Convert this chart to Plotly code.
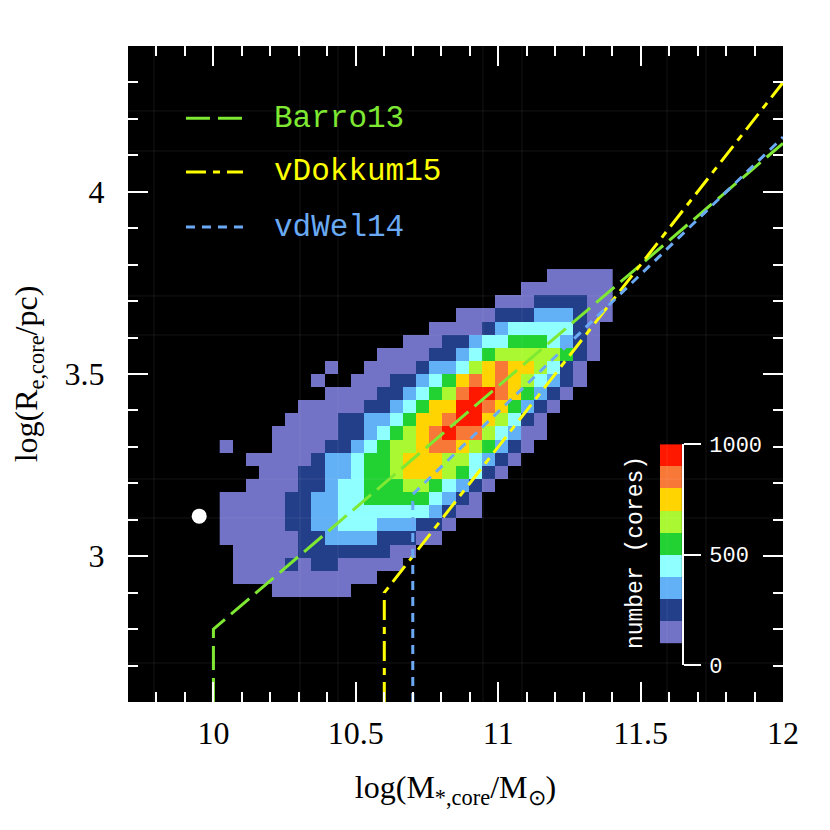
import plotly.graph_objects as go

# 2D histogram of cores, rows listed from top (high R_e) to bottom.
# each digit = which hundred the cell count falls in (0 = empty)
core_rows = [
    "000000000000000000000000011111",
    "000000000000000000000001111111",
    "000000000000000000000111222211",
    "000000000000000000111222333211",
    "000000000000000011112344444210",
    "000000000000001112234455543210",
    "000000000000111122345666665210",
    "000000001001111233467877642100",
    "000000010011122345787876432100",
    "000000001111223456899875321000",
    "000000111112234577998753210000",
    "000001111223345778997642100000",
    "000011111223456789886431100000",
    "100011112234566788765321000000",
    "001111123345567776643210000000",
    "000111223345567776542100000000",
    "001111223445556654321000000000",
    "111112233445555543210000000000",
    "111112233444444432110000000000",
    "111112233444333221000000000000",
    "111111223333222110000000000000",
    "011111222222211000000000000000",
    "011112122111110000000000000000",
    "011111111111000000000000000000",
    "000011111100000000000000000000",
]
bin_counts = [None, 150, 250, 350, 450, 550, 650, 750, 850, 950]
level_colors = ["#7272c6", "#243f8a", "#62b0f6", "#90ffff", "#22d232",
                "#aaf832", "#ffd400", "#f87838", "#ff1800"]
level_mid = [150, 250, 350, 450, 550, 650, 750, 850, 950]

# compactness criteria (x = log M, y = log Re)
series_names = ["Barro13", "vDokkum15", "vdWel14"]
barro_x, barro_y = [10.0, 10.0, 12.0], [2.6, 2.8, 4.133]
dokkum_x, dokkum_y = [10.6, 10.6, 12.0], [2.6, 2.9, 4.3]
vdwel_x, vdwel_y = [10.7, 10.7, 12.0], [2.6, 3.17, 4.15]
line_colors = ["#7ee832", "#ffff00", "#6aaaf5"]
line_dashes = ["24px,8px", "20px,7px,7px,7px", "9px,7px"]

dot_x, dot_y = [9.95], [3.11]

z = [[bin_counts[int(c)] for c in row] for row in core_rows[::-1]]

cs = []
for i, c in enumerate(level_colors):
    cs.append([i / 9, c])
    cs.append([(i + 1) / 9, c])

fig = go.Figure()
fig.add_trace(go.Heatmap(z=z, x0=10.045, dx=0.046, y0=2.906, dy=0.036,
                         colorscale=cs, zmin=100, zmax=1000, showscale=False,
                         hoverongaps=False))

for xs, ys, name, col, dash in zip([barro_x, dokkum_x, vdwel_x], [barro_y, dokkum_y, vdwel_y],
                                   series_names, line_colors, line_dashes):
    fig.add_trace(go.Scatter(x=xs, y=ys, mode="lines", name=name, showlegend=False,
                             line=dict(color=col, width=3, dash=dash)))

fig.add_trace(go.Scatter(x=dot_x, y=dot_y, mode="markers", showlegend=False,
                         marker=dict(color="white", size=15)))

# colour key drawn as its own little heatmap
fig.add_trace(go.Heatmap(z=[[v] for v in level_mid], x=[0], y=level_mid, xaxis="x2", yaxis="y2",
                         colorscale=cs, zmin=100, zmax=1000, showscale=False))

serif = "Liberation Serif"
mono = "Liberation Mono"
tick_style = dict(ticks="inside", ticklen=20, tickwidth=1.5, tickcolor="white",
                  showline=True, linecolor="white", linewidth=1, mirror="ticks",
                  showgrid=False, zeroline=False, automargin=False,
                  tickfont=dict(family=serif, size=32, color="black"))

# page body adds 8px, so margins are trimmed by that much
fig.update_layout(
    width=830, height=830,
    margin=dict(l=120, r=55, t=38, b=136),
    paper_bgcolor="white", plot_bgcolor="black",
    xaxis=dict(range=[9.7, 12], tick0=10, dtick=0.5, domain=[0, 1],
               minor=dict(dtick=0.1, tick0=10, ticks="inside", ticklen=10, tickcolor="white", tickwidth=1.5),
               ticklabelstandoff=3,
               title=dict(text="log(M<sub>*,core</sub>/M<sub>⊙</sub>)",
                          font=dict(family=serif, size=32, color="black"), standoff=25),
               **tick_style),
    yaxis=dict(range=[2.6, 4.4], tick0=3, dtick=0.5, domain=[0, 1],
               minor=dict(dtick=0.1, tick0=3, ticks="inside", ticklen=10, tickcolor="white", tickwidth=1.5),
               ticklabelstandoff=16,
               title=dict(text="log(R<sub>e,core</sub>/pc)",
                          font=dict(family=serif, size=32, color="black"), standoff=29),
               **tick_style),
    xaxis2=dict(domain=[0.812, 0.846], range=[-0.5, 0.5], anchor="y2", visible=False),
    yaxis2=dict(domain=[0.0564, 0.393], range=[0, 1000], anchor="x2", side="right",
                tickvals=[0, 500, 1000], ticks="outside", ticklen=17, tickwidth=1.5, tickcolor="white",
                showline=True, linecolor="white", linewidth=1.5, showgrid=False, zeroline=False,
                ticklabelstandoff=4, automargin=False,
                tickfont=dict(family=mono, size=22, color="white")),
)

fig.add_annotation(text="number (cores)", textangle=-90, x=0.7756, y=0.227, xref="paper", yref="paper",
                   xanchor="center", yanchor="middle", showarrow=False,
                   font=dict(family=mono, size=23, color="white"))

# legend drawn by hand so the samples are long like the original
legend_y = [0.890, 0.808, 0.724]
for name, col, dash, ly in zip(series_names, line_colors, line_dashes, legend_y):
    fig.add_shape(type="line", xref="paper", yref="paper", x0=0.0885, x1=0.1756, y0=ly, y1=ly,
                  line=dict(color=col, width=3, dash=dash))
    fig.add_annotation(text=name, x=0.2198, y=ly, xref="paper", yref="paper", xanchor="left",
                       yanchor="middle", showarrow=False, font=dict(family=mono, size=31, color=col))

# faint guide grid seen in the original
for gx in [0.0397, 0.2626, 0.3206, 0.542, 0.6015, 0.823, 0.8824]:
    fig.add_shape(type="line", xref="paper", yref="paper", x0=gx, x1=gx, y0=0, y1=1, layer="above",
                  line=dict(color="rgba(255,255,255,0.08)", width=1))
for gy in [0.901, 0.840, 0.619, 0.5595, 0.340, 0.2805, 0.0595]:
    fig.add_shape(type="line", xref="paper", yref="paper", x0=0, x1=1, y0=gy, y1=gy, layer="above",
                  line=dict(color="rgba(255,255,255,0.08)", width=1))

fig.write_html("out.html")
